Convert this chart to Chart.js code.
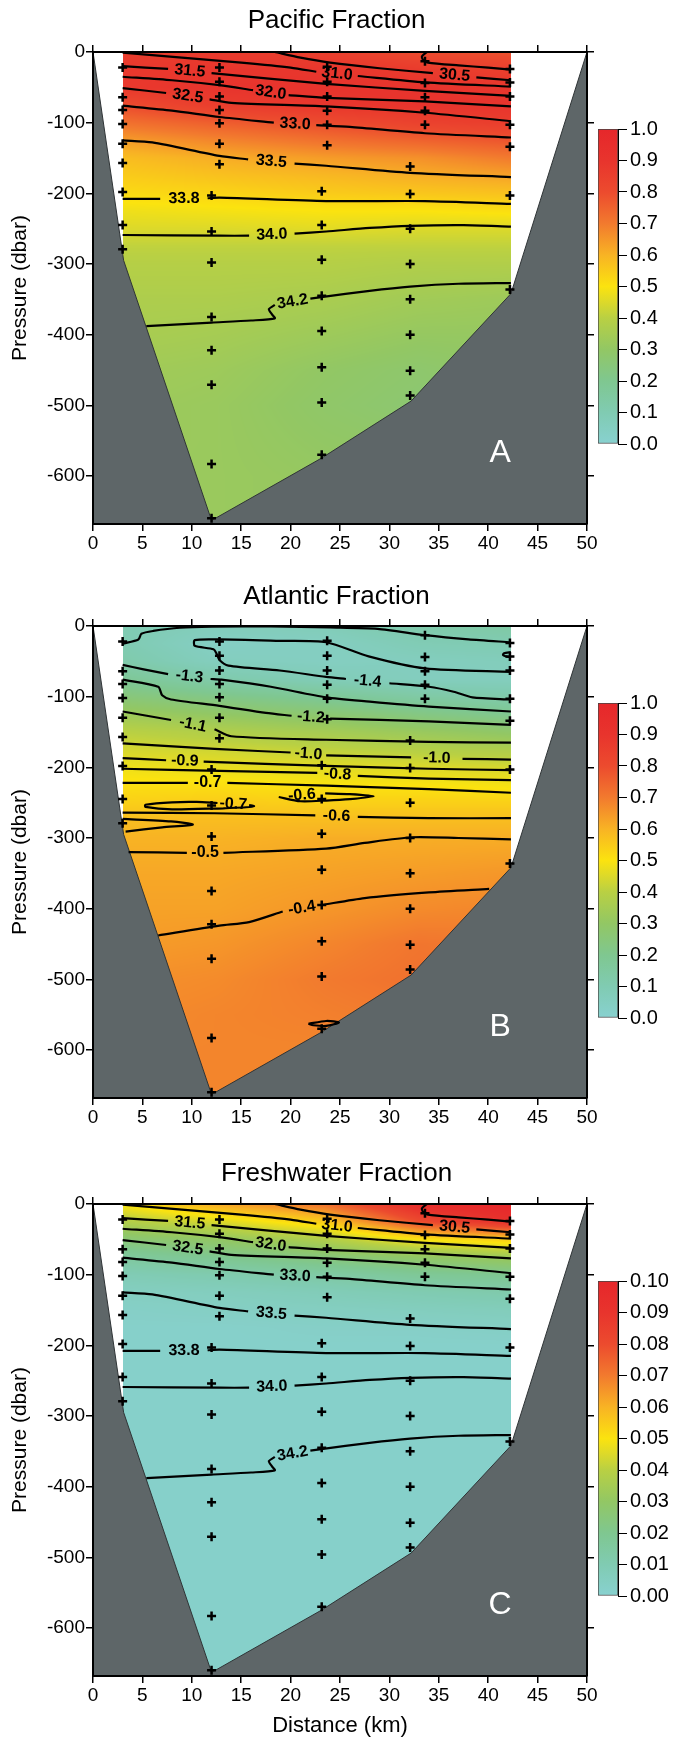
<!DOCTYPE html>
<html>
<head>
<meta charset="utf-8">
<script src="https://cdn.jsdelivr.net/npm/chart.js@4.4.1/dist/chart.umd.min.js"></script>
<style>
  html, body { margin: 0; padding: 0; background: #fff; }
  body { position: relative; width: 673px; height: 1739px; overflow: hidden; }
  canvas { position: absolute; }
</style>
</head>
<body>
<script>
// ---- section data (distance km, pressure dbar) ----
const gridX = [3, 12.5, 23.5, 33, 42.3];
const depthLevels = [0, 25, 50, 75, 100, 125, 150, 175, 200, 225, 250, 275, 300, 350, 400, 450, 500, 550, 600, 670];

const pacificGrid = [
  [0.86, 0.87, 0.85, 0.80, 0.78],
  [0.88, 0.89, 0.89, 0.87, 0.85],
  [0.88, 0.90, 0.90, 0.90, 0.89],
  [0.80, 0.86, 0.89, 0.90, 0.90],
  [0.72, 0.76, 0.80, 0.84, 0.86],
  [0.64, 0.68, 0.72, 0.75, 0.78],
  [0.58, 0.61, 0.64, 0.66, 0.70],
  [0.55, 0.57, 0.59, 0.61, 0.63],
  [0.52, 0.53, 0.55, 0.56, 0.57],
  [0.48, 0.49, 0.50, 0.50, 0.51],
  [0.45, 0.45, 0.46, 0.45, 0.45],
  [0.41, 0.41, 0.41, 0.41, 0.41],
  [0.39, 0.39, 0.39, 0.38, 0.38],
  [0.37, 0.37, 0.36, 0.34, 0.33],
  [0.36, 0.35, 0.33, 0.31, 0.31],
  [0.34, 0.33, 0.30, 0.28, 0.30],
  [0.33, 0.32, 0.29, 0.27, 0.30],
  [0.33, 0.32, 0.30, 0.29, 0.30],
  [0.32, 0.32, 0.31, 0.30, 0.30],
  [0.32, 0.32, 0.31, 0.30, 0.30]
];

const atlanticGrid = [
  [0.10, 0.07, 0.08, 0.12, 0.14],
  [0.10, 0.04, 0.05, 0.09, 0.10],
  [0.12, 0.06, 0.05, 0.06, 0.07],
  [0.18, 0.12, 0.08, 0.06, 0.06],
  [0.25, 0.22, 0.18, 0.14, 0.12],
  [0.33, 0.30, 0.27, 0.23, 0.20],
  [0.40, 0.38, 0.35, 0.32, 0.29],
  [0.44, 0.43, 0.41, 0.39, 0.37],
  [0.48, 0.47, 0.46, 0.45, 0.44],
  [0.51, 0.51, 0.50, 0.50, 0.49],
  [0.54, 0.55, 0.54, 0.54, 0.54],
  [0.58, 0.58, 0.58, 0.58, 0.58],
  [0.60, 0.60, 0.61, 0.61, 0.61],
  [0.62, 0.62, 0.63, 0.64, 0.65],
  [0.63, 0.63, 0.65, 0.67, 0.68],
  [0.64, 0.65, 0.68, 0.71, 0.70],
  [0.66, 0.67, 0.70, 0.72, 0.70],
  [0.67, 0.68, 0.69, 0.70, 0.70],
  [0.68, 0.68, 0.68, 0.69, 0.70],
  [0.68, 0.68, 0.68, 0.69, 0.70]
];

const freshGrid = [
  [0.050, 0.062, 0.072, 0.095, 0.100],
  [0.038, 0.045, 0.055, 0.080, 0.092],
  [0.026, 0.030, 0.038, 0.050, 0.055],
  [0.016, 0.020, 0.025, 0.030, 0.033],
  [0.009, 0.011, 0.014, 0.018, 0.020],
  [0.005, 0.006, 0.008, 0.010, 0.012],
  [0.003, 0.004, 0.005, 0.006, 0.007],
  [0.002, 0.002, 0.003, 0.003, 0.004],
  [0.002, 0.002, 0.002, 0.002, 0.002],
  [0.002, 0.002, 0.002, 0.002, 0.002],
  [0.002, 0.002, 0.002, 0.002, 0.002],
  [0.002, 0.002, 0.002, 0.002, 0.002],
  [0.002, 0.002, 0.002, 0.002, 0.002],
  [0.002, 0.002, 0.002, 0.002, 0.002],
  [0.002, 0.002, 0.002, 0.002, 0.002],
  [0.002, 0.002, 0.002, 0.002, 0.002],
  [0.002, 0.002, 0.002, 0.002, 0.002],
  [0.002, 0.002, 0.002, 0.002, 0.002],
  [0.002, 0.002, 0.002, 0.002, 0.002],
  [0.002, 0.002, 0.002, 0.002, 0.002]
];

// sea floor
const bottomX = [0, 3.1, 12, 23.1, 32.2, 42.3, 50];
const bottomP = [0, -295, -663, -575, -494, -342, 0];

// CTD casts (crosses)
const castX = [3.0, 12.8, 12.0, 23.7, 23.15, 33.6, 32.1, 42.2];
const castP = [
  [22, 64, 82, 102, 130, 157, 198, 245, 279],
  [22, 42, 63, 82, 101, 130, 159],
  [203, 254, 298, 375, 422, 471, 583, 660],
  [21, 42, 63, 83, 103, 132],
  [197, 245, 294, 345, 395, 446, 496, 570],
  [13, 44, 64, 83, 103],
  [162, 201, 250, 300, 350, 400, 451, 486],
  [24, 43, 63, 103, 134, 203, 336]
];

// salinity contours (panels A and C); null = label gap
const sal300 = [[33.8, 0], [33.3, -6], [33.4, -11], [33.9, -15], [37, -19], [40, -22], [42.3, -25]];
const sal305 = [[18.4, 0], [21, -8], [24, -15], [29, -23], [34.4, -30], null, [38.8, -36], [42.3, -40]];
const sal310 = [[3, -1], [9, -8], [15, -15], [20, -22], [22.6, -28], null, [26.8, -34], [33.6, -43], [42.3, -49]];
const sal315 = [[3, -20], [7.6, -24], null, [12, -30], [23.6, -45], [33.6, -55], [42.3, -62]];
const sal320 = [[3, -35], [8, -40], [12.8, -47], [16.2, -54], null, [19.8, -61], [23.6, -65], [33.6, -70], [42.3, -77]];
const sal325 = [[3, -51], [7.4, -58], null, [11.8, -67], [14, -72], [23.6, -77], [33.6, -86], [42.3, -98]];
const sal330 = [[3, -76], [8, -83], [12.8, -92], [18.3, -100], null, [22.6, -103.5], [26, -106], [33.6, -115], [42.3, -121]];
const sal335 = [[3, -125], [6, -128], [12.8, -147], [15.7, -152], null, [20.4, -158], [23.6, -161], [32.1, -171], [42.3, -177]];
const sal338 = [[3, -208], [6.8, -208], null, [11.6, -207], [12.8, -206], [23.6, -211], [33.6, -211], [42.3, -215]];
const sal340 = [[3, -259], [12.8, -260], [15.8, -260], null, [20.4, -257], [23.6, -254], [28, -249], [32.1, -246], [37.5, -245], [42.3, -247]];
const sal342 = [[5.4, -388], [12, -383], [16, -380], [18.4, -377], [18.1, -371], [17.8, -364], [18.4, -358], null, [22, -349], [23.1, -347], [28, -338], [32.1, -332], [37, -328], [42.3, -327]];

const salinityLines = [
  { label: '', pts: sal300 }, { label: '30.5', pts: sal305 }, { label: '31.0', pts: sal310 },
  { label: '31.5', pts: sal315 }, { label: '32.0', pts: sal320 }, { label: '32.5', pts: sal325 },
  { label: '33.0', pts: sal330 }, { label: '33.5', pts: sal335 }, { label: '33.8', pts: sal338 },
  { label: '34.0', pts: sal340 }, { label: '34.2', pts: sal342 }
];

// temperature contours (panel B)
const tmp1 = [[3, -25], [4.6, -19], [4.9, -11], [6.1, -7], [8.8, -2.5], [12, -1], [18, -0.5], [24, -2], [28.8, -4], [33.6, -13], [38, -19], [42.3, -23]];
const tmp2 = [[42.3, -65], [33.6, -60], [27.9, -43], [23.6, -23], [18.9, -21], [12.8, -19], [10.3, -20], [10.3, -28], [12.2, -33], [12.5, -39], [12.8, -48], [13.7, -56], [18.9, -63], [23.6, -72], [25.6, -75], null, [30, -81], [34, -86], [36.5, -93], [38.4, -101], [42.3, -104]];
const tmp3 = [[3, -55], [5, -61], [7.6, -68], null, [11.9, -75], [13, -76], [18, -86], [23.6, -101], [28, -107], [34, -114], [42.3, -121]];
const tmp4 = [[3, -76], [6.6, -86], [7, -98], [7.9, -104], [12.8, -113], [17.5, -123], [20.1, -127], null, [24, -131], [34, -135], [42.3, -140]];
const tmp5 = [[3, -121], [7.9, -133], null, [12.3, -146], [14, -156], [23.6, -161], [34, -164], [42.3, -165]];
const tmp6 = [[3, -166], [12.3, -174], [20, -179], null, [23.6, -183], [32.2, -186], null, [37.4, -188], [42.3, -189]];
const tmp7 = [[3, -187], [7.4, -190], null, [11.2, -192], [23.6, -198], [34, -202], [42.3, -204]];
const tmp8 = [[3, -202], [12.8, -205], [22.7, -208], null, [26.8, -212], [34, -216], [42.3, -218]];
const tmp9 = [[3, -222], [9.6, -222], null, [13.6, -222], [23.6, -226], [34, -231], [42.3, -236]];
const tmp10 = [[13.2, -258], [8, -259.5], [5.3, -256], [5.3, -253], [8, -249.5], [10.5, -249], [12.6, -250.5], null, [15.8, -253.5], [16.3, -255], [15.5, -256.5], [13.2, -258]];
const tmp11 = [[18.8, -242], null, [23.5, -237], [26, -238], [28.4, -241], [26, -245], [23.6, -247], [21, -248], [18.8, -242]];
const tmp12 = [[3, -264], [12.3, -265], [22.5, -268], null, [26.8, -270], [34, -272], [42.3, -272]];
const tmp13 = [[3, -273], [7.9, -276.5], [10.1, -281], [7, -285], [3.3, -291]];
const tmp14 = [[3.6, -320], [9.5, -321], null, [13.2, -321], [23.6, -315], [27.5, -307], [32.3, -299], [37, -300], [42.3, -302]];
const tmp15 = [[6.6, -438], [12.8, -424], [15.8, -419], [19.2, -404], null, [23.1, -395], [27.5, -385], [34, -377], [40.1, -372]];
const tmp16 = [[21.8, -563], [23.6, -559], [24.9, -561], [23.6, -566], [22.3, -565], [21.8, -563]];
const tmp17 = [[42.3, -37], [41.6, -38.5], [41.5, -41], [41.9, -43.5], [42.3, -44]];

const atlanticLines = [
  { label: '', pts: tmp1 }, { label: '-1.4', pts: tmp2 }, { label: '-1.3', pts: tmp3 },
  { label: '-1.2', pts: tmp4 }, { label: '-1.1', pts: tmp5 }, { label: '-1.0', pts: tmp6 },
  { label: '-0.9', pts: tmp7 }, { label: '-0.8', pts: tmp8 }, { label: '-0.7', pts: tmp9 },
  { label: '-0.7', pts: tmp10 }, { label: '-0.6', pts: tmp11 }, { label: '-0.6', pts: tmp12 },
  { label: '', pts: tmp13 }, { label: '-0.5', pts: tmp14 }, { label: '-0.4', pts: tmp15 },
  { label: '', pts: tmp16 }, { label: '', pts: tmp17 }
];

// colour scale (fraction of the bar)
const colorStops = [0, 0.1, 0.2, 0.3, 0.4, 0.45, 0.5, 0.6, 0.7, 0.8, 0.9, 1.0];
const colorHex = ['#88d1d0', '#80cbb2', '#7fc790', '#92c764', '#b9d043', '#dcd92a', '#fbe30f', '#f8b324', '#f27a2e', '#ec4b2e', '#e8342d', '#e6272b'];

const letterX = 41.2, letterP = -568;

// ---- drawing ----
const black = '#000';
const fontFam = "'Liberation Sans', Arial, Helvetica, sans-serif";
Chart.defaults.font.family = fontFam;
Chart.defaults.color = black;

const colorRGB = colorHex.map(h => [1, 3, 5].map(i => parseInt(h.slice(i, i + 2), 16)));

function colorAt(t) {
  t = Math.max(0, Math.min(1, t));
  let i = 0;
  while (i < colorStops.length - 2 && t > colorStops[i + 1]) i++;
  const f = (t - colorStops[i]) / (colorStops[i + 1] - colorStops[i]);
  const a = colorRGB[i], b = colorRGB[i + 1];
  return [a[0] + (b[0] - a[0]) * f, a[1] + (b[1] - a[1]) * f, a[2] + (b[2] - a[2]) * f];
}

function sampleGrid(grid, x, p) {
  const d = -p;
  let i = 0;
  while (i < depthLevels.length - 2 && d > depthLevels[i + 1]) i++;
  let ty = (d - depthLevels[i]) / (depthLevels[i + 1] - depthLevels[i]);
  ty = Math.max(0, Math.min(1, ty));
  let j = 0;
  while (j < gridX.length - 2 && x > gridX[j + 1]) j++;
  let tx = (x - gridX[j]) / (gridX[j + 1] - gridX[j]);
  tx = Math.max(0, Math.min(1, tx));
  const a = grid[i][j] * (1 - tx) + grid[i][j + 1] * tx;
  const b = grid[i + 1][j] * (1 - tx) + grid[i + 1][j + 1] * tx;
  return a * (1 - ty) + b * ty;
}

const specs = {};

// colour field under the contours
const fieldPlugin = {
  id: 'sectionField',
  beforeDatasetsDraw(chart) {
    const spec = specs[chart.canvas.id];
    if (!spec) return;
    const area = chart.chartArea, xs = chart.scales.x, ys = chart.scales.y;
    const w = Math.round(area.right - area.left), h = Math.round(area.bottom - area.top);
    const off = document.createElement('canvas');
    off.width = w; off.height = h;
    const octx = off.getContext('2d');
    const img = octx.createImageData(w, h);
    const x0 = gridX[0], x1 = gridX[gridX.length - 1];
    for (let py = 0; py < h; py++) {
      const p = ys.getValueForPixel(area.top + py + 0.5);
      for (let px = 0; px < w; px++) {
        const x = xs.getValueForPixel(area.left + px + 0.5);
        if (x < x0 || x > x1) continue;
        const c = colorAt(sampleGrid(spec.grid, x, p) / spec.max);
        const k = (py * w + px) * 4;
        img.data[k] = c[0]; img.data[k + 1] = c[1]; img.data[k + 2] = c[2]; img.data[k + 3] = 255;
      }
    }
    octx.putImageData(img, 0, 0);
    chart.ctx.drawImage(off, area.left, area.top);
  }
};

// contour labels and panel letter
const labelPlugin = {
  id: 'contourLabels',
  afterDatasetsDraw(chart) {
    const spec = specs[chart.canvas.id];
    if (!spec) return;
    const ctx = chart.ctx, xs = chart.scales.x, ys = chart.scales.y;
    ctx.save();
    ctx.font = 'bold 16px ' + fontFam;
    ctx.fillStyle = black;
    ctx.textAlign = 'center';
    ctx.textBaseline = 'middle';
    spec.lines.forEach(line => {
      line.pts.forEach((pt, k) => {
        if (pt !== null) return;
        const a = line.pts[k - 1], b = line.pts[k + 1];
        const ax = xs.getPixelForValue(a[0]), ay = ys.getPixelForValue(a[1]);
        const bx = xs.getPixelForValue(b[0]), by = ys.getPixelForValue(b[1]);
        let ang = Math.atan2(by - ay, bx - ax);
        if (ang > Math.PI / 2) ang -= Math.PI;
        if (ang < -Math.PI / 2) ang += Math.PI;
        ctx.save();
        ctx.translate((ax + bx) / 2, (ay + by) / 2);
        ctx.rotate(ang);
        ctx.fillText(line.label, 0, 0);
        ctx.restore();
      });
    });
    ctx.font = '32px ' + fontFam;
    ctx.fillStyle = '#fff';
    ctx.fillText(spec.letter, xs.getPixelForValue(letterX), ys.getPixelForValue(letterP));
    ctx.restore();
  }
};

function axis(position, fitSize, showLabels, extra) {
  const horizontal = position === 'top' || position === 'bottom';
  return Object.assign({
    type: 'linear',
    position: position,
    min: horizontal ? 0 : -668,
    max: horizontal ? 50 : 0,
    grid: { drawOnChartArea: false, drawTicks: true, tickLength: 7, color: black, lineWidth: 1.5, z: 1 },
    border: { display: true, color: black, width: 2, z: 1 },
    ticks: {
      stepSize: horizontal ? 5 : 100, includeBounds: false, autoSkip: false, maxRotation: 0,
      color: black, font: { size: 19 }, padding: 1, z: 1,
      callback: showLabels ? (v => String(v)) : (() => '')
    },
    afterFit: s => {
      if (horizontal) s.height = fitSize; else s.width = fitSize;
      s.paddingLeft = 0; s.paddingRight = 0; s.paddingTop = 0; s.paddingBottom = 0;
    }
  }, extra || {});
}

function toXY(pts) {
  return pts.map((p, k) => p ? { x: p[0], y: p[1] } : { x: (pts[k - 1][0] + pts[k + 1][0]) / 2, y: null });
}

const panels = [
  { id: 'A', title: 'Pacific Fraction', grid: pacificGrid, max: 1, dec: 1, lines: salinityLines, top: 0, height: 573, plotTop: 52, titlePad: 5 },
  { id: 'B', title: 'Atlantic Fraction', grid: atlanticGrid, max: 1, dec: 1, lines: atlanticLines, top: 573, height: 579, plotTop: 53, titlePad: 8 },
  { id: 'C', title: 'Freshwater Fraction', grid: freshGrid, max: 0.1, dec: 2, lines: salinityLines, top: 1152, height: 587, plotTop: 52, titlePad: 6, xTitle: 'Distance (km)' }
];
const plotHeight = 472;

const crossPts = [];
castX.forEach((x, i) => castP[i].forEach(p => crossPts.push({ x: x, y: -p })));
const bottomPts = bottomX.map((x, i) => ({ x: x, y: bottomP[i] }));

panels.forEach(pn => {
  const main = document.createElement('canvas');
  main.id = 'main' + pn.id;
  main.width = 673; main.height = pn.height;
  main.style.left = '0px'; main.style.top = pn.top + 'px';
  document.body.appendChild(main);
  specs[main.id] = { grid: pn.grid, max: pn.max, lines: pn.lines, letter: pn.id };

  const datasets = [{
    type: 'scatter', data: crossPts, pointStyle: 'cross', pointRadius: 4.5,
    borderColor: black, backgroundColor: black, borderWidth: 2.5, showLine: false
  }];
  pn.lines.forEach(l => datasets.push({
    type: 'line', data: toXY(l.pts), borderColor: black, borderWidth: 2.2,
    pointRadius: 0, tension: 0.25, fill: false, spanGaps: false
  }));
  datasets.push({
    type: 'line', data: bottomPts, borderColor: '#2f3436', borderWidth: 1, pointRadius: 0,
    tension: 0, fill: 'start', backgroundColor: '#5e6668'
  });

  const xHeight = pn.height - pn.plotTop - plotHeight;
  const topHeight = pn.plotTop - pn.titlePad - 26 * 1.2;
  const xExtra = pn.xTitle ? { title: { display: true, text: pn.xTitle, color: black, font: { size: 22 }, padding: { top: 0, bottom: 0 } } } : {};

  new Chart(main, {
    type: 'scatter',
    data: { datasets: datasets },
    options: {
      responsive: false, animation: false, devicePixelRatio: 1,
      layout: { padding: 0 },
      plugins: {
        legend: { display: false }, tooltip: { enabled: false },
        title: { display: true, text: pn.title, color: black, font: { size: 26, weight: 'normal' }, padding: { top: pn.titlePad, bottom: 0 } }
      },
      scales: {
        x: axis('bottom', xHeight, true, xExtra),
        x2: axis('top', topHeight, false),
        y: axis('left', 93, true, { title: { display: true, text: 'Pressure (dbar)', color: black, font: { size: 21 }, padding: { top: 8, bottom: 0 } } }),
        y2: axis('right', 86, false)
      }
    },
    plugins: [fieldPlugin, labelPlugin]
  });

  // colour bar
  const bar = document.createElement('canvas');
  bar.width = 83; bar.height = 350;
  bar.style.left = '590px'; bar.style.top = (pn.top + pn.plotTop + 60) + 'px';
  document.body.appendChild(bar);
  new Chart(bar, {
    type: 'bar',
    data: {
      labels: [''],
      datasets: [{
        data: [pn.max],
        backgroundColor: ctx => {
          const a = ctx.chart.chartArea;
          if (!a) return null;
          const g = ctx.chart.ctx.createLinearGradient(0, a.bottom, 0, a.top);
          colorStops.forEach((s, i) => g.addColorStop(s, colorHex[i]));
          return g;
        },
        borderColor: '#444', borderWidth: 1, borderSkipped: false,
        barPercentage: 1, categoryPercentage: 1
      }]
    },
    options: {
      responsive: false, animation: false, devicePixelRatio: 1,
      layout: { padding: { left: 8, right: 0, top: 17, bottom: 18 } },
      plugins: { legend: { display: false }, tooltip: { enabled: false } },
      scales: {
        x: { display: false },
        y: {
          position: 'right', min: 0, max: pn.max,
          grid: { drawOnChartArea: false, tickLength: 9, color: black, lineWidth: 1 },
          border: { display: true, color: black, width: 1 },
          ticks: { stepSize: pn.max / 10, autoSkip: false, includeBounds: false, color: black, font: { size: 20 }, padding: 3,
            callback: v => Number(v).toFixed(pn.dec) },
          afterFit: s => { s.width = 55; s.paddingTop = 0; s.paddingBottom = 0; }
        }
      }
    }
  });
});
</script>
</body>
</html>
